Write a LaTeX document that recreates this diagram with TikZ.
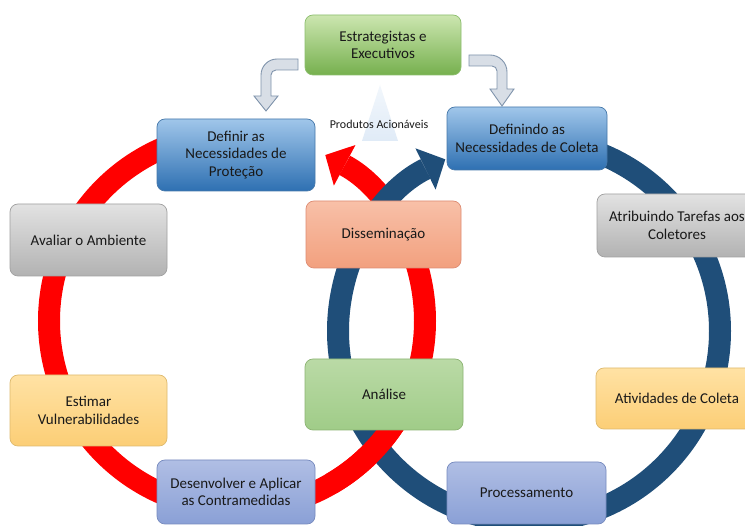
\documentclass[tikz,border=0pt]{standalone}
\usepackage{fontspec}
\setmainfont{Carlito}
\usetikzlibrary{arrows.meta}
\definecolor{ringred}{RGB}{255,0,0}
\definecolor{ringblue}{RGB}{31,78,121}
\definecolor{txt}{RGB}{25,25,25}
\definecolor{garrowfill}{RGB}{216,222,230}
\definecolor{garrowline}{RGB}{128,148,172}
\definecolor{tritop}{RGB}{242,247,252}
\definecolor{tribot}{RGB}{224,235,247}
\definecolor{gnA}{RGB}{204,230,176}\definecolor{gnB}{RGB}{118,176,78}\definecolor{gnL}{RGB}{140,190,110}
\definecolor{blA}{RGB}{160,198,234}\definecolor{blB}{RGB}{46,112,178}\definecolor{blL}{RGB}{70,120,170}
\definecolor{gyA}{RGB}{226,226,226}\definecolor{gyB}{RGB}{178,178,178}\definecolor{gyL}{RGB}{160,160,160}
\definecolor{orA}{RGB}{255,226,164}\definecolor{orB}{RGB}{252,206,118}\definecolor{orL}{RGB}{222,186,110}
\definecolor{saA}{RGB}{248,192,168}\definecolor{saB}{RGB}{242,160,126}\definecolor{saL}{RGB}{222,140,115}
\definecolor{anA}{RGB}{186,218,166}\definecolor{anB}{RGB}{160,204,136}\definecolor{anL}{RGB}{140,180,115}
\definecolor{lvA}{RGB}{176,190,228}\definecolor{lvB}{RGB}{138,160,214}\definecolor{lvL}{RGB}{118,138,190}
\begin{document}
\begin{tikzpicture}[x=1pt,y=-1pt,
  box/.style={rounded corners=8pt, draw, line width=0.7pt, align=center,
    font=\fontsize{15}{17.5}\selectfont, text=txt, inner sep=0pt},
  greenbox/.style={box, top color=gnA, bottom color=gnB, draw=gnL},
  bluebox/.style={box, top color=blA, bottom color=blB, draw=blL},
  graybox/.style={box, top color=gyA, bottom color=gyB, draw=gyL},
  orangebox/.style={box, top color=orA, bottom color=orB, draw=orL},
  salmonbox/.style={box, top color=saA, bottom color=saB, draw=saL},
  analbox/.style={box, top color=anA, bottom color=anB, draw=anL},
  lavbox/.style={box, top color=lvA, bottom color=lvB, draw=lvL},
  ring/.style={line width=22pt},
  ringtip/.style={-{Triangle[width=46pt,length=22pt,line width=0pt]}},
  garrow/.style={fill=garrowfill, draw=garrowline, line width=0.9pt, line join=miter}
]
\useasboundingbox (0,0) rectangle (745,526);
\fill[white] (0,0) rectangle (745,526);

% rings
\draw[ring, ringred, ringtip] (237,133) arc[start angle=-90, end angle=-422, radius=188];
\draw[ring, ringblue, ringtip] (529,140) arc[start angle=-90, end angle=244, radius=191];
\draw[ring, ringred] (237,321) ++(25:188) arc[start angle=25, end angle=60, radius=188];

% produtos triangle and label
\shade[top color=tritop, bottom color=tribot] (380,85) -- (398,141) -- (362,141) -- cycle;
\node[text=txt, font=\fontsize{12}{13}\selectfont] (prod) at (379,124) {Produtos Acionáveis};

% bent gray arrows
\draw[garrow] (298,59) -- (277,59) arc[start angle=-90, end angle=-180, radius=16]
  -- (261,96) -- (254,96) -- (266,111) -- (278,96) -- (271,96) -- (271,75)
  arc[start angle=-180, end angle=-90, radius=5] -- (298,70) -- cycle;
\draw[garrow] (469,55) -- (490,55) arc[start angle=-90, end angle=0, radius=17]
  -- (507,89) -- (514,89) -- (502,106) -- (490,89) -- (497,89) -- (497,71)
  arc[start angle=0, end angle=-90, radius=5] -- (469,66) -- cycle;

% boxes
\node[greenbox, minimum width=156pt, minimum height=60pt] (estr) at (383,45) {Estrategistas e\\Executivos};
\node[bluebox, minimum width=158pt, minimum height=72pt] (defp) at (236,155) {Definir as\\Necessidades de\\Proteção};
\node[bluebox, minimum width=160pt, minimum height=63pt] (defc) at (527,138.5) {Definindo as\\Necessidades de Coleta};
\node[graybox, minimum width=160pt, minimum height=63pt] (atrib) at (677,225.5) {Atribuindo Tarefas aos\\Coletores};
\node[graybox, minimum width=157pt, minimum height=72pt] (aval) at (88.5,240) {Avaliar o Ambiente};
\node[orangebox, minimum width=157pt, minimum height=71pt] (estim) at (88.5,410.5) {Estimar\\Vulnerabilidades};
\node[salmonbox, minimum width=155pt, minimum height=67pt] (dissem) at (383.5,234.5) {Disseminação};
\node[analbox, minimum width=158pt, minimum height=71pt] (anal) at (384,394.5) {Análise};
\node[lavbox, minimum width=158pt, minimum height=64pt] (desenv) at (236,492) {Desenvolver e Aplicar\\as Contramedidas};
\node[orangebox, minimum width=162pt, minimum height=61pt] (ativ) at (677,398.5) {Atividades de Coleta};
\node[lavbox, minimum width=159pt, minimum height=62pt] (proc) at (526.5,493) {Processamento};
\end{tikzpicture}
\end{document}
